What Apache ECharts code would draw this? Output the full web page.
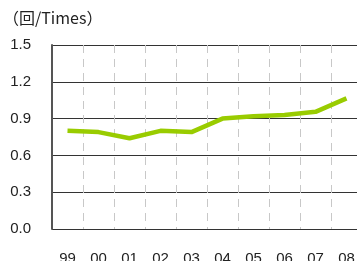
<!DOCTYPE html>
<html>
<head>
<meta charset="utf-8">
<script src="https://cdn.jsdelivr.net/npm/echarts@6/dist/echarts.min.js"></script>
<style>
  html, body { margin: 0; padding: 0; background: #fff; }
  #chart { width: 357px; height: 261px; }
</style>
</head>
<body>
<div id="chart"></div>
<script>
// fiscal years (2-digit)
const years = ['99', '00', '01', '02', '03', '04', '05', '06', '07', '08'];
// times per year
const times = [0.80, 0.79, 0.74, 0.80, 0.79, 0.90, 0.92, 0.93, 0.955, 1.065];
const unitLabel = '（回/Times）';

var chart = echarts.init(document.getElementById('chart'));

var option = {
  animation: false,
  textStyle: { fontFamily: 'Liberation Sans, "Noto Sans CJK JP", sans-serif' },
  title: {
    text: unitLabel,
    left: -2,
    top: 5,
    textStyle: {
      fontSize: 16,
      fontWeight: 'normal',
      color: '#222',
      fontFamily: '"Noto Sans CJK JP", sans-serif'
    }
  },
  grid: {
    left: 52, top: 45, width: 310, height: 184,
    outerBoundsMode: 'none', containLabel: false
  },
  xAxis: {
    type: 'category',
    data: years,
    boundaryGap: true,
    axisLine: { show: false },
    axisTick: { show: false },
    axisLabel: { fontSize: 15, color: '#222', margin: 22 },
    splitLine: {
      show: true,
      lineStyle: { color: '#c8c8c8', type: [8, 6], width: 1 }
    }
  },
  yAxis: {
    type: 'value',
    min: 0,
    max: 1.5,
    interval: 0.3,
    axisLine: { show: true, lineStyle: { color: '#555', width: 2 } },
    axisTick: { show: false },
    axisLabel: {
      fontSize: 15,
      color: '#222',
      margin: 21,
      formatter: v => v.toFixed(1)
    },
    splitLine: { lineStyle: { color: '#333', width: 1 } }
  },
  series: [{
    type: 'line',
    data: times,
    symbol: 'none',
    lineStyle: { color: '#99cc00', width: 4.5 },
    itemStyle: { color: '#99cc00' }
  }]
};

option && chart.setOption(option);
</script>
</body>
</html>
